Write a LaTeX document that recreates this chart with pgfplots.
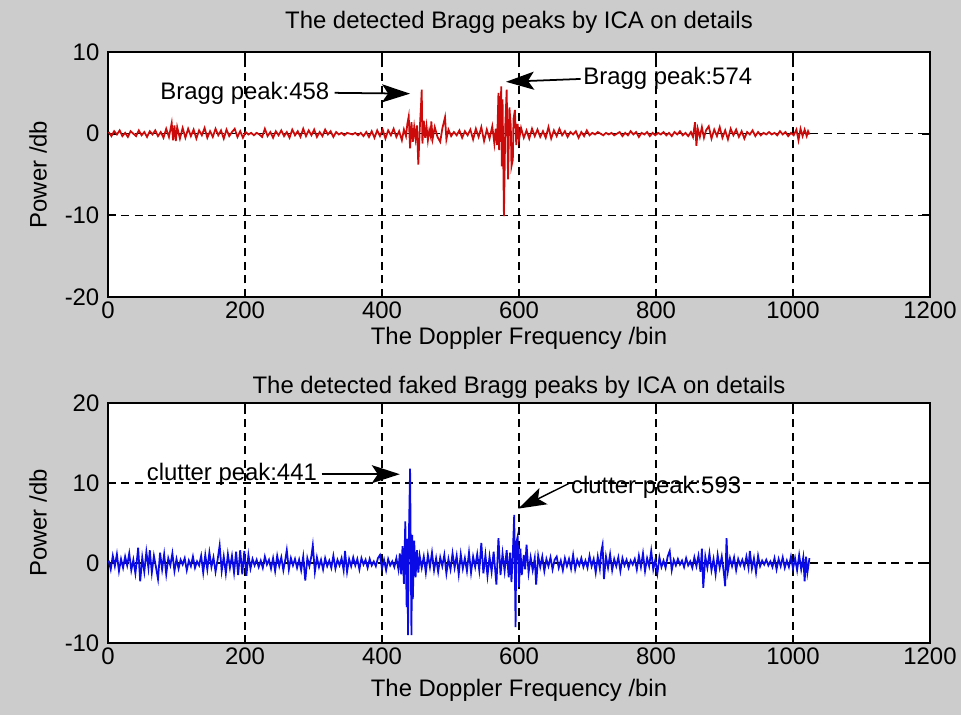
\documentclass[border=0pt]{standalone}
\usepackage{fontspec}
\setmainfont{Liberation Sans}
\usepackage{pgfplots}
\pgfplotsset{compat=1.18}
\usepackage{pgfplotstable}
\usetikzlibrary{arrows.meta}

\definecolor{figgray}{RGB}{204,204,204}
\definecolor{tracered}{RGB}{205,10,10}
\definecolor{traceblue}{RGB}{10,10,230}

% Detected Bragg peaks (power in dB against Doppler bin)
\pgfplotstableread{
x y
1 0.2
5 -0.3
9 0.3
13 -0.1
17 0.4
21 -0.3
25 0.1
29 -0.4
33 0.3
37 0.0
41 -0.3
45 0.4
49 -0.2
53 0.2
57 -0.4
61 0.3
65 -0.1
69 0.4
73 -0.3
77 0.2
81 -0.5
85 0.6
89 -0.4
93 1.3
95 -0.8
97 1.0
99 -0.9
101 0.8
105 -0.6
109 0.7
113 -0.5
117 0.6
121 -0.3
125 0.5
129 -0.6
133 0.4
137 -0.2
141 0.7
145 -0.5
149 0.3
153 -0.4
157 0.6
161 -0.2
165 0.4
169 -0.6
173 0.5
177 -0.3
181 0.2
185 0.6
189 -0.4
193 0.3
197 -0.5
201 0.2
205 -0.1
209 0.1
213 -0.2
217 0.1
221 -0.1
225 -0.4
229 0.6
233 -0.3
237 0.2
241 -0.5
245 0.3
249 -0.2
253 0.4
257 -0.3
261 0.2
265 -0.5
269 0.5
273 -0.2
277 0.3
281 -0.4
285 0.6
289 -0.3
293 0.4
297 -0.2
301 0.5
305 -0.4
309 0.2
313 -0.3
317 0.5
321 -0.1
325 0.3
329 -0.4
333 0.2
337 -0.1
341 0.1
345 -0.2
349 0.1
353 0.0
357 -0.1
361 0.1
365 -0.2
369 0.1
373 -0.3
377 0.2
381 -0.4
385 0.3
389 -0.5
393 0.4
397 -0.3
401 0.5
405 -0.6
409 0.4
413 -0.2
417 0.6
421 -0.4
425 0.3
429 -0.8
432 0.5
435 -0.3
437 1.2
439 2.1
441 -1.8
443 1.4
445 -1.0
447 0.8
449 -0.6
451 1.0
453 -3.8
455 0.4
457 3.5
458 5.4
459 -1.2
461 1.6
463 -0.5
465 0.9
467 -0.8
469 0.4
471 -0.3
472 1.5
474 -0.6
477 0.8
481 -0.4
485 -1.0
488 0.6
492 2.0
494 -0.7
497 0.5
501 -0.3
505 0.2
509 -0.2
513 0.4
517 -0.5
521 0.3
525 -0.2
529 0.5
533 -0.7
537 0.6
541 -0.4
545 0.8
549 -0.9
553 0.5
557 -0.6
561 0.9
564 -1.2
566 0.6
568 -1.4
570 5.0
571 -2.0
572 4.6
573 -1.0
574 5.8
575 -4.0
576 4.2
578 -10.1
580 1.0
582 5.4
584 -5.6
586 3.2
588 1.0
589 -4.0
591 -3.2
592 1.8
594 2.9
596 -1.4
598 1.2
600 -0.8
603 0.7
607 -0.5
611 0.4
615 -0.6
619 0.6
623 -0.3
627 0.5
631 -0.4
635 0.3
639 -0.5
643 0.8
647 -0.6
651 0.4
655 -0.3
659 0.6
663 -0.2
667 0.3
671 -0.4
675 0.2
679 -0.1
683 0.3
687 -0.5
691 0.2
695 -0.3
699 0.4
703 -0.2
707 0.1
711 -0.1
715 0.2
719 0.0
723 -0.2
727 0.1
731 -0.1
735 0.1
739 -0.2
743 0.0
747 0.2
751 -0.3
755 0.1
759 -0.2
763 0.3
767 -0.1
771 0.2
775 -0.4
779 0.1
783 -0.1
787 0.2
791 -0.3
795 0.1
799 -0.2
803 0.1
807 -0.1
811 0.2
815 -0.2
819 0.1
823 -0.3
827 0.2
831 -0.1
835 0.3
839 -0.2
843 0.1
847 -0.3
851 0.2
854 -0.4
857 1.4
859 -1.5
861 0.6
864 -0.4
867 0.8
870 -0.5
873 0.4
877 0.9
881 -0.6
885 0.5
889 -0.3
893 0.8
897 -0.5
901 0.4
905 -0.7
909 0.6
913 -0.2
917 0.5
921 -0.4
925 0.3
929 -0.6
933 0.2
937 -0.1
941 0.4
945 -0.3
949 0.2
953 -0.2
957 0.1
961 -0.1
965 0.2
969 -0.1
973 0.1
977 -0.2
981 0.3
985 -0.1
989 0.2
993 -0.3
997 0.1
1001 -0.2
1005 0.5
1008 -0.8
1011 0.6
1014 -0.3
1017 0.5
1020 -0.3
1022 0.3
1024 -0.1
}\braggdata

% Detected faked Bragg (clutter) peaks
\pgfplotstableread{
x y
1 0.3
4 -0.8
7 0.9
10 -0.4
13 1.1
16 -1.0
19 0.5
22 -0.6
25 0.8
28 -0.3
31 1.2
34 -0.9
37 0.4
40 -1.3
43 1.0
44 1.9
47 -2.3
50 0.7
53 -1.1
56 1.4
59 -0.6
61 1.6
64 -1.2
67 0.9
70 -0.5
73 -2.0
76 1.3
79 -0.8
82 1.1
85 -1.4
88 0.6
91 -0.3
94 1.2
97 -1.0
100 0.5
103 -0.7
106 0.4
109 -0.2
112 0.6
115 -0.9
118 0.3
121 -0.4
124 0.8
127 -0.6
130 0.2
133 -0.3
136 0.9
139 -1.2
142 1.0
145 -0.8
148 1.3
151 -0.5
154 0.7
157 -1.1
160 0.4
163 2.2
166 -1.0
169 0.8
172 -1.3
175 1.1
178 -0.6
181 0.9
184 -1.2
187 1.4
190 -1.5
193 1.6
196 -1.4
199 1.5
202 -1.6
205 1.0
208 -0.7
211 0.5
214 -0.3
217 0.4
220 -0.5
223 0.3
226 -0.6
229 0.8
232 -0.2
235 0.4
238 -0.7
241 0.6
244 -1.0
247 0.9
250 -0.4
253 0.7
256 -0.9
259 0.5
261 1.6
264 -0.8
267 0.6
270 -0.3
273 0.5
276 -0.6
279 0.4
282 -0.9
285 0.8
288 -2.2
291 0.6
294 -0.4
297 0.9
299 2.2
302 -1.1
305 0.7
308 -0.5
311 0.4
314 -0.8
317 0.6
320 -0.4
323 0.3
326 -0.6
329 0.9
332 -0.7
335 0.4
338 -0.3
341 0.6
344 -0.9
346 1.5
349 -1.1
352 0.5
355 -0.4
358 0.7
361 -0.3
364 0.5
367 -0.8
370 0.6
373 -0.2
376 0.4
379 -0.6
382 0.5
385 -0.3
388 0.2
391 -0.4
394 0.6
397 1.0
400 -0.7
403 0.4
406 -0.9
409 0.5
412 -0.3
415 0.2
418 -0.5
421 0.6
424 -0.8
426 1.2
428 -1.4
430 2.1
432 -2.6
434 5.2
436 -5.5
437 3.0
438 -9.0
439 2.0
441 11.8
443 -9.0
444 3.5
445 -4.5
447 2.8
449 -1.8
451 1.6
453 -1.2
455 0.9
458 -0.6
461 0.8
464 -1.2
467 1.0
470 -0.5
473 1.3
476 -0.9
479 0.6
482 -1.1
485 0.7
488 -0.4
491 1.0
494 -1.3
497 0.5
500 -0.8
503 1.2
506 -0.6
509 0.9
512 -1.4
515 1.1
518 -0.7
521 0.6
524 -1.0
527 1.3
530 -1.2
533 0.8
536 -0.5
539 1.1
542 -0.9
545 2.5
548 -1.3
551 1.0
554 -1.6
557 0.8
560 -1.1
563 1.4
567 -2.7
570 3.1
573 -1.5
576 1.2
579 -1.0
582 1.6
585 -1.8
587 1.3
589 -2.4
591 1.2
593 6.0
595 -8.0
596 2.5
598 3.3
600 -3.0
602 1.8
604 -1.5
607 1.0
609 -0.8
611 2.3
614 -1.2
617 0.7
620 -0.9
623 0.6
625 -2.7
628 0.9
631 -0.5
634 0.8
637 -1.0
640 0.5
643 -0.4
646 0.7
649 -0.8
652 0.4
655 0.8
658 -0.6
661 0.3
664 -0.9
667 0.6
670 -0.4
673 0.5
676 -0.7
679 1.0
682 -0.8
685 0.4
688 -0.3
691 0.6
694 -0.5
697 0.3
700 -0.6
703 0.9
706 -0.4
709 0.5
712 -1.2
715 0.8
718 -0.7
720 1.4
722 2.25
724 -2.0
727 0.8
730 -0.6
733 1.1
736 -0.9
739 0.5
742 -0.4
745 0.7
748 -1.0
751 0.6
754 -0.3
757 0.4
760 -0.6
763 0.3
766 -0.2
769 0.5
772 -0.8
775 0.9
778 -0.5
781 1.2
784 -1.0
787 0.6
790 -0.4
793 1.5
796 -0.8
799 0.4
802 -1.3
805 0.7
808 -0.5
811 0.3
814 -0.6
817 0.8
820 1.5
823 -0.9
826 0.4
829 -0.3
832 0.5
835 -0.2
838 0.3
841 -0.5
844 0.6
847 -0.3
850 0.2
853 -0.6
856 0.7
859 -0.4
862 0.9
865 -1.1
867 1.8
869 -3.1
872 0.8
875 -0.6
878 1.2
881 -0.9
884 0.5
887 -1.4
890 1.0
893 -0.6
896 0.8
899 -1.2
901 -2.9
903 3.1
905 -1.0
908 0.6
911 -0.4
914 0.7
917 -0.9
920 0.5
923 -0.3
926 0.4
929 -0.5
932 0.8
935 -0.6
937 1.5
940 -0.7
943 0.6
946 -1.2
949 0.9
952 -0.4
955 0.3
958 -0.2
961 0.4
964 -0.3
967 0.2
970 -0.5
973 0.6
976 -0.8
979 0.5
982 -0.4
985 0.7
988 -0.6
991 0.3
994 -0.5
997 0.8
1000 -0.7
1003 0.6
1006 -0.9
1009 1.0
1012 -0.8
1015 0.7
1017 -2.3
1019 0.8
1021 -1.2
1024 0.6
}\clutterdata

\tikzset{
  pointer/.style={black, line width=0.5pt,
    -{Stealth[length=2.8mm, width=1.8mm, inset=0.6mm]}},
  note/.style={inner sep=0pt, black},
}

\pgfplotsset{
  panel/.style={
    scale only axis,
    width=8.22cm,
    xmin=0, xmax=1200,
    xtick={0,200,...,1200},
    grid=major,
    major grid style={black, line width=0.45pt, dash pattern=on 0.8mm off 0.55mm},
    axis line style={black, line width=0.5pt},
    every tick/.style={black, line width=0.5pt},
    major tick length=0.8mm,
    tick align=inside,
    tick pos=both,
    axis background/.style={fill=white},
    /pgf/number format/assume math mode=true,
    /pgf/number format/1000 sep={},
    xticklabel style={anchor=center, yshift=-1.3mm, inner sep=0pt},
    yticklabel style={anchor=east, xshift=-0.8mm, inner sep=0pt},
    every axis y label/.style={at={(rel axis cs:0,0.5)}, xshift=-7mm, rotate=90, anchor=center},
    xlabel={The Doppler Frequency /bin},
    ylabel={Power /db},
    clip=true,
  },
}

\begin{document}
\fontsize{6.8}{8}\selectfont
\begin{tikzpicture}
\fill[figgray] (0,0) rectangle (9.61,7.15);

% upper panel: genuine Bragg peaks
\begin{axis}[panel,
  anchor=north west, at={(1.08cm,6.63cm)},
  height=2.45cm,
  ymin=-20, ymax=10, ytick={-20,-10,0,10},
  every axis x label/.style={at={(rel axis cs:0.5,0)}, anchor=center, yshift=-4.1mm},
  title={The detected Bragg peaks by ICA on details},
  every axis title/.style={at={(rel axis cs:0.5,1)}, anchor=center, yshift=3.0mm},
]
\addplot[tracered, line width=0.5pt] table[x=x, y=y] {\braggdata};
\draw[pointer] (axis cs:331,5.0) -- (axis cs:441,4.9);
\node[note, anchor=east] at (axis cs:324,5.0) {Bragg peak:458};
\draw[pointer] (axis cs:690,6.7) -- (axis cs:581,6.35);
\node[note, anchor=west] at (axis cs:693,6.75) {Bragg peak:574};
\end{axis}

% lower panel: faked Bragg peaks caused by clutter
\begin{axis}[panel,
  anchor=north west, at={(1.08cm,3.12cm)},
  height=2.40cm,
  ymin=-10, ymax=20, ytick={-10,0,10,20},
  every axis x label/.style={at={(rel axis cs:0.5,0)}, anchor=center, yshift=-4.7mm},
  title={The detected faked Bragg peaks by ICA on details},
  every axis title/.style={at={(rel axis cs:0.5,1)}, anchor=center, yshift=1.6mm},
]
\addplot[traceblue, line width=0.5pt] table[x=x, y=y] {\clutterdata};
\draw[pointer] (axis cs:312,11.1) -- (axis cs:426,11.1);
\node[note, anchor=east] at (axis cs:306,11.1) {clutter peak:441};
\draw[pointer, line width=0.4pt] (axis cs:672,9.9) -- (axis cs:599,6.8);
\node[note, anchor=west] at (axis cs:675,9.5) {clutter peak:593};
\end{axis}

\pgfresetboundingbox
\useasboundingbox (0,0) rectangle (9.61,7.15);
\end{tikzpicture}
\end{document}
